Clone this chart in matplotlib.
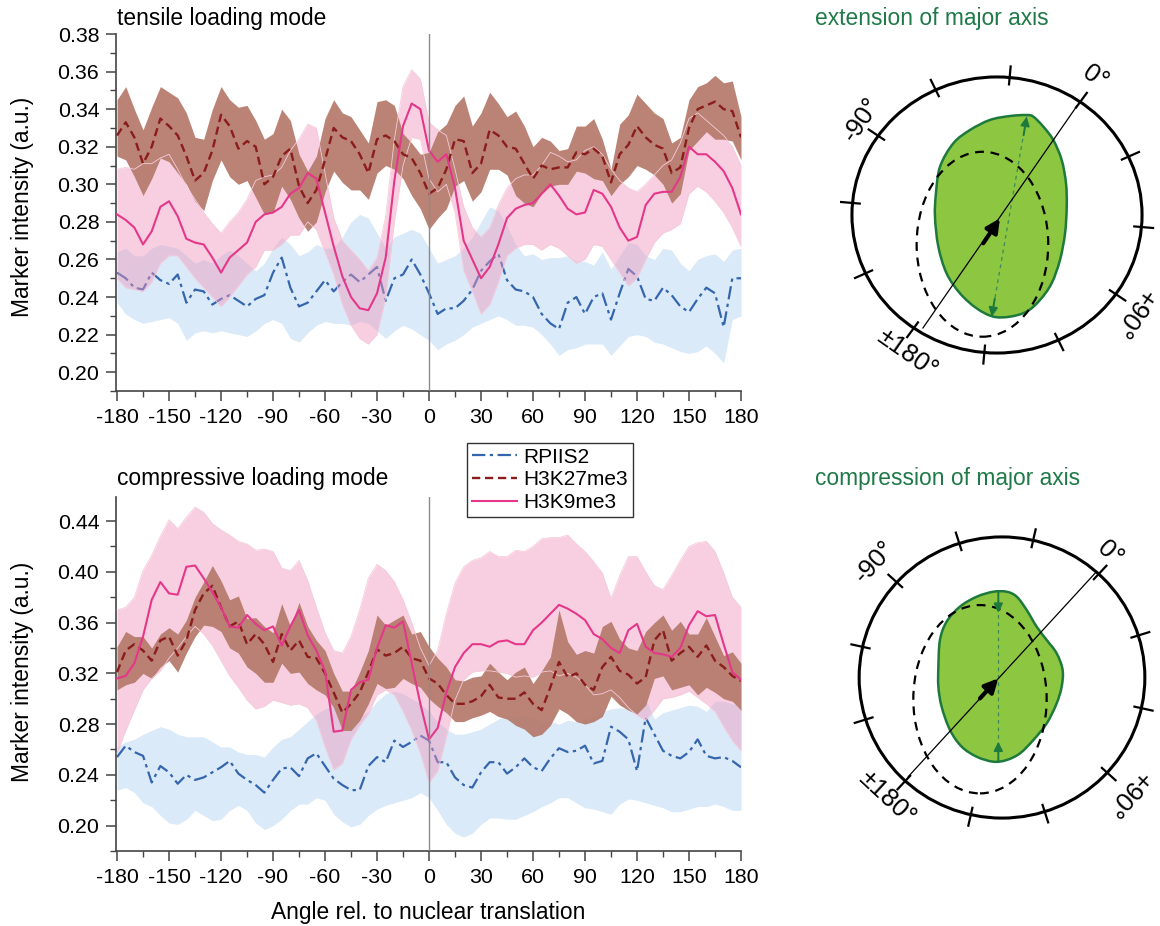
import numpy as np
import matplotlib
matplotlib.use("Agg")
import matplotlib.pyplot as plt
from matplotlib.path import Path
from matplotlib.patches import PathPatch, Ellipse
from matplotlib.ticker import MultipleLocator, FormatStrFormatter

plt.rcParams['font.family'] = ['Liberation Sans', 'DejaVu Sans']
plt.rcParams['axes.unicode_minus'] = False

# ---- data (angle grid, 5 degree steps) ----
angle = np.arange(-180, 181, 5)

# tensile loading mode
t_rp = [0.253, 0.250, 0.245, 0.244, 0.253, 0.249, 0.247, 0.252, 0.237, 0.244, 0.243, 0.236, 0.239, 0.241, 0.238, 0.235, 0.239, 0.241, 0.253, 0.261, 0.245, 0.235, 0.237, 0.243, 0.249,
        0.243, 0.248, 0.252, 0.248, 0.252, 0.256, 0.238, 0.250, 0.252, 0.260, 0.252, 0.242, 0.231, 0.234, 0.234, 0.238, 0.244, 0.254, 0.259, 0.263, 0.249, 0.244, 0.243, 0.240,
        0.231, 0.226, 0.223, 0.237, 0.240, 0.231, 0.240, 0.242, 0.228, 0.242, 0.255, 0.251, 0.239, 0.238, 0.245, 0.241, 0.235, 0.232, 0.239, 0.245, 0.242, 0.224, 0.250, 0.250]
t_rp_hi = [0.264, 0.266, 0.262, 0.262, 0.266, 0.268, 0.267, 0.266, 0.262, 0.258, 0.260, 0.258, 0.262, 0.265, 0.262, 0.258, 0.254, 0.258, 0.266, 0.272, 0.268, 0.262, 0.264, 0.268, 0.266,
           0.266, 0.272, 0.280, 0.284, 0.282, 0.274, 0.266, 0.272, 0.274, 0.276, 0.274, 0.266, 0.258, 0.260, 0.262, 0.266, 0.272, 0.280, 0.288, 0.286, 0.278, 0.268, 0.262, 0.263,
           0.260, 0.261, 0.261, 0.262, 0.259, 0.259, 0.257, 0.264, 0.255, 0.262, 0.269, 0.268, 0.262, 0.260, 0.266, 0.265, 0.258, 0.254, 0.260, 0.262, 0.263, 0.259, 0.265, 0.266]
t_rp_lo = [0.237, 0.231, 0.228, 0.226, 0.227, 0.228, 0.229, 0.226, 0.217, 0.221, 0.222, 0.221, 0.222, 0.221, 0.220, 0.219, 0.222, 0.226, 0.228, 0.226, 0.218, 0.216, 0.221, 0.225, 0.227,
           0.226, 0.226, 0.225, 0.227, 0.226, 0.222, 0.218, 0.222, 0.225, 0.223, 0.220, 0.217, 0.212, 0.215, 0.217, 0.220, 0.224, 0.226, 0.228, 0.230, 0.228, 0.225, 0.225, 0.224,
           0.220, 0.215, 0.209, 0.212, 0.213, 0.215, 0.215, 0.215, 0.209, 0.214, 0.219, 0.220, 0.219, 0.216, 0.215, 0.213, 0.211, 0.210, 0.211, 0.214, 0.210, 0.205, 0.228, 0.230]

t_k27 = [0.326, 0.333, 0.325, 0.311, 0.320, 0.335, 0.331, 0.326, 0.315, 0.302, 0.306, 0.318, 0.337, 0.331, 0.319, 0.323, 0.320, 0.300, 0.304, 0.315, 0.319, 0.299, 0.290, 0.297, 0.313,
         0.330, 0.325, 0.323, 0.316, 0.306, 0.324, 0.326, 0.323, 0.316, 0.314, 0.306, 0.295, 0.298, 0.308, 0.324, 0.323, 0.306, 0.311, 0.329, 0.326, 0.320, 0.319, 0.311, 0.303,
         0.310, 0.308, 0.309, 0.309, 0.317, 0.316, 0.319, 0.315, 0.301, 0.316, 0.321, 0.331, 0.325, 0.321, 0.319, 0.306, 0.309, 0.330, 0.340, 0.342, 0.344, 0.340, 0.339, 0.325]
t_k27_hi = [0.345, 0.352, 0.340, 0.329, 0.341, 0.352, 0.349, 0.346, 0.338, 0.325, 0.324, 0.340, 0.352, 0.345, 0.341, 0.342, 0.334, 0.324, 0.327, 0.340, 0.334, 0.316, 0.307, 0.315, 0.335,
            0.345, 0.338, 0.336, 0.329, 0.322, 0.344, 0.345, 0.342, 0.327, 0.322, 0.316, 0.317, 0.328, 0.332, 0.342, 0.347, 0.331, 0.338, 0.349, 0.343, 0.336, 0.339, 0.331, 0.320,
            0.325, 0.323, 0.318, 0.319, 0.331, 0.331, 0.335, 0.324, 0.308, 0.332, 0.337, 0.348, 0.343, 0.338, 0.335, 0.322, 0.325, 0.345, 0.352, 0.354, 0.358, 0.354, 0.355, 0.336]
t_k27_lo = [0.315, 0.313, 0.304, 0.294, 0.303, 0.314, 0.312, 0.306, 0.300, 0.291, 0.286, 0.302, 0.313, 0.304, 0.300, 0.302, 0.293, 0.284, 0.285, 0.299, 0.292, 0.282, 0.275, 0.280, 0.296,
            0.307, 0.301, 0.297, 0.297, 0.292, 0.306, 0.310, 0.308, 0.303, 0.294, 0.287, 0.276, 0.282, 0.287, 0.299, 0.302, 0.291, 0.296, 0.308, 0.308, 0.305, 0.294, 0.290, 0.288,
            0.295, 0.299, 0.300, 0.300, 0.307, 0.306, 0.303, 0.302, 0.294, 0.300, 0.304, 0.310, 0.308, 0.305, 0.300, 0.290, 0.295, 0.318, 0.323, 0.328, 0.324, 0.324, 0.323, 0.313]

t_k9 = [0.284, 0.281, 0.277, 0.268, 0.275, 0.288, 0.291, 0.283, 0.271, 0.269, 0.268, 0.261, 0.253, 0.261, 0.265, 0.269, 0.280, 0.284, 0.285, 0.288, 0.295, 0.298, 0.306, 0.303, 0.285,
        0.267, 0.251, 0.240, 0.234, 0.233, 0.242, 0.261, 0.302, 0.331, 0.343, 0.340, 0.318, 0.312, 0.316, 0.298, 0.270, 0.260, 0.250, 0.256, 0.268, 0.282, 0.287, 0.289, 0.290,
        0.295, 0.300, 0.294, 0.287, 0.284, 0.285, 0.297, 0.295, 0.288, 0.277, 0.270, 0.272, 0.289, 0.295, 0.296, 0.296, 0.304, 0.320, 0.316, 0.316, 0.312, 0.307, 0.298, 0.284]
t_k9_hi = [0.308, 0.309, 0.308, 0.311, 0.311, 0.314, 0.316, 0.308, 0.299, 0.292, 0.285, 0.279, 0.274, 0.280, 0.285, 0.292, 0.302, 0.304, 0.305, 0.309, 0.318, 0.324, 0.332, 0.330, 0.306,
           0.282, 0.270, 0.265, 0.260, 0.254, 0.261, 0.283, 0.324, 0.352, 0.361, 0.356, 0.333, 0.329, 0.326, 0.308, 0.288, 0.277, 0.272, 0.277, 0.289, 0.298, 0.303, 0.305, 0.305,
           0.310, 0.317, 0.315, 0.312, 0.313, 0.318, 0.320, 0.316, 0.308, 0.302, 0.298, 0.296, 0.300, 0.305, 0.310, 0.313, 0.322, 0.335, 0.338, 0.334, 0.330, 0.326, 0.320, 0.310]
t_k9_lo = [0.250, 0.245, 0.244, 0.243, 0.248, 0.258, 0.262, 0.262, 0.256, 0.250, 0.245, 0.240, 0.235, 0.240, 0.246, 0.252, 0.256, 0.265, 0.265, 0.268, 0.273, 0.273, 0.280, 0.276, 0.264,
           0.252, 0.236, 0.225, 0.218, 0.215, 0.220, 0.240, 0.280, 0.310, 0.325, 0.324, 0.303, 0.296, 0.300, 0.285, 0.254, 0.243, 0.231, 0.236, 0.248, 0.262, 0.266, 0.268, 0.268,
           0.265, 0.268, 0.266, 0.262, 0.258, 0.260, 0.268, 0.267, 0.260, 0.253, 0.246, 0.250, 0.260, 0.269, 0.274, 0.276, 0.279, 0.295, 0.299, 0.296, 0.291, 0.285, 0.277, 0.267]

# compressive loading mode
c_rp = [0.254, 0.263, 0.258, 0.255, 0.234, 0.247, 0.242, 0.233, 0.240, 0.236, 0.238, 0.242, 0.246, 0.251, 0.241, 0.236, 0.232, 0.226, 0.236, 0.245, 0.246, 0.239, 0.253, 0.257, 0.247,
        0.237, 0.232, 0.228, 0.228, 0.247, 0.254, 0.250, 0.267, 0.262, 0.266, 0.271, 0.267, 0.250, 0.250, 0.238, 0.232, 0.230, 0.242, 0.250, 0.250, 0.241, 0.246, 0.253, 0.246,
        0.243, 0.253, 0.261, 0.258, 0.259, 0.263, 0.249, 0.251, 0.278, 0.274, 0.268, 0.243, 0.285, 0.272, 0.259, 0.255, 0.253, 0.258, 0.268, 0.255, 0.253, 0.254, 0.251, 0.246]
c_rp_hi = [0.262, 0.266, 0.268, 0.272, 0.275, 0.278, 0.276, 0.272, 0.270, 0.270, 0.270, 0.266, 0.262, 0.262, 0.258, 0.256, 0.256, 0.254, 0.262, 0.268, 0.270, 0.276, 0.282, 0.288, 0.292,
           0.294, 0.290, 0.284, 0.285, 0.290, 0.298, 0.304, 0.306, 0.304, 0.300, 0.296, 0.290, 0.282, 0.276, 0.272, 0.272, 0.274, 0.276, 0.280, 0.284, 0.286, 0.286, 0.287, 0.286,
           0.282, 0.282, 0.280, 0.283, 0.282, 0.284, 0.286, 0.290, 0.292, 0.293, 0.292, 0.294, 0.300, 0.284, 0.289, 0.291, 0.293, 0.295, 0.294, 0.290, 0.298, 0.298, 0.296, 0.294]
c_rp_lo = [0.228, 0.230, 0.226, 0.218, 0.215, 0.208, 0.202, 0.201, 0.205, 0.212, 0.208, 0.204, 0.205, 0.212, 0.216, 0.212, 0.202, 0.197, 0.200, 0.205, 0.212, 0.217, 0.217, 0.222, 0.220,
           0.209, 0.203, 0.199, 0.201, 0.208, 0.213, 0.216, 0.218, 0.220, 0.222, 0.226, 0.222, 0.212, 0.201, 0.194, 0.191, 0.194, 0.201, 0.206, 0.206, 0.205, 0.205, 0.208, 0.211,
           0.215, 0.218, 0.222, 0.222, 0.218, 0.214, 0.213, 0.211, 0.209, 0.217, 0.221, 0.220, 0.218, 0.216, 0.214, 0.211, 0.211, 0.213, 0.215, 0.215, 0.217, 0.215, 0.212, 0.212]

c_k27 = [0.321, 0.338, 0.343, 0.338, 0.330, 0.346, 0.349, 0.334, 0.346, 0.370, 0.383, 0.389, 0.372, 0.357, 0.361, 0.343, 0.351, 0.343, 0.329, 0.351, 0.338, 0.346, 0.333, 0.332, 0.320,
         0.305, 0.289, 0.296, 0.305, 0.321, 0.339, 0.334, 0.336, 0.341, 0.332, 0.330, 0.316, 0.312, 0.303, 0.296, 0.296, 0.298, 0.302, 0.311, 0.301, 0.300, 0.300, 0.305, 0.296,
         0.291, 0.309, 0.329, 0.317, 0.320, 0.311, 0.307, 0.325, 0.333, 0.322, 0.319, 0.312, 0.317, 0.346, 0.354, 0.330, 0.336, 0.341, 0.333, 0.342, 0.330, 0.325, 0.318, 0.314]
c_k27_hi = [0.341, 0.353, 0.349, 0.349, 0.340, 0.351, 0.356, 0.351, 0.362, 0.380, 0.392, 0.405, 0.393, 0.378, 0.381, 0.363, 0.364, 0.357, 0.352, 0.375, 0.357, 0.376, 0.357, 0.346, 0.338,
            0.320, 0.306, 0.306, 0.321, 0.338, 0.366, 0.358, 0.362, 0.366, 0.351, 0.353, 0.341, 0.332, 0.325, 0.315, 0.314, 0.317, 0.318, 0.328, 0.321, 0.315, 0.321, 0.325, 0.312,
            0.322, 0.333, 0.370, 0.345, 0.335, 0.338, 0.336, 0.357, 0.361, 0.347, 0.340, 0.338, 0.353, 0.360, 0.366, 0.354, 0.361, 0.351, 0.351, 0.364, 0.349, 0.334, 0.337, 0.328]
c_k27_lo = [0.307, 0.311, 0.313, 0.320, 0.316, 0.325, 0.330, 0.321, 0.336, 0.349, 0.358, 0.357, 0.353, 0.340, 0.336, 0.325, 0.320, 0.313, 0.313, 0.328, 0.320, 0.321, 0.312, 0.307, 0.303,
            0.293, 0.275, 0.275, 0.283, 0.296, 0.312, 0.308, 0.309, 0.316, 0.312, 0.309, 0.300, 0.294, 0.289, 0.282, 0.282, 0.285, 0.287, 0.290, 0.286, 0.284, 0.279, 0.276, 0.270,
            0.272, 0.279, 0.292, 0.288, 0.282, 0.280, 0.282, 0.286, 0.302, 0.295, 0.291, 0.288, 0.295, 0.316, 0.318, 0.307, 0.309, 0.311, 0.303, 0.309, 0.305, 0.300, 0.298, 0.291]

c_k9 = [0.316, 0.318, 0.328, 0.349, 0.378, 0.392, 0.383, 0.382, 0.404, 0.405, 0.395, 0.384, 0.372, 0.357, 0.356, 0.366, 0.359, 0.354, 0.357, 0.342, 0.357, 0.370, 0.350, 0.338, 0.322,
        0.274, 0.275, 0.307, 0.313, 0.315, 0.340, 0.358, 0.356, 0.361, 0.328, 0.296, 0.268, 0.277, 0.305, 0.325, 0.336, 0.343, 0.343, 0.341, 0.345, 0.346, 0.343, 0.343, 0.354,
        0.360, 0.367, 0.374, 0.371, 0.367, 0.362, 0.351, 0.347, 0.340, 0.336, 0.354, 0.359, 0.341, 0.336, 0.335, 0.333, 0.340, 0.358, 0.369, 0.365, 0.366, 0.343, 0.321, 0.315]
c_k9_hi = [0.370, 0.372, 0.380, 0.401, 0.413, 0.428, 0.441, 0.434, 0.443, 0.451, 0.447, 0.438, 0.433, 0.429, 0.424, 0.422, 0.417, 0.418, 0.416, 0.403, 0.401, 0.409, 0.393, 0.372, 0.352,
           0.338, 0.336, 0.349, 0.370, 0.395, 0.406, 0.401, 0.392, 0.378, 0.360, 0.340, 0.326, 0.338, 0.367, 0.391, 0.404, 0.409, 0.411, 0.416, 0.412, 0.412, 0.417, 0.416, 0.420,
           0.426, 0.427, 0.427, 0.429, 0.422, 0.416, 0.408, 0.399, 0.379, 0.397, 0.412, 0.412, 0.400, 0.389, 0.386, 0.397, 0.409, 0.420, 0.423, 0.424, 0.416, 0.399, 0.380, 0.372]
c_k9_lo = [0.257, 0.275, 0.291, 0.307, 0.316, 0.322, 0.332, 0.340, 0.349, 0.357, 0.351, 0.342, 0.330, 0.318, 0.309, 0.299, 0.292, 0.294, 0.299, 0.297, 0.295, 0.296, 0.293, 0.283, 0.262,
           0.244, 0.249, 0.268, 0.279, 0.288, 0.303, 0.307, 0.303, 0.290, 0.275, 0.257, 0.234, 0.243, 0.270, 0.299, 0.315, 0.321, 0.322, 0.322, 0.321, 0.320, 0.317, 0.318, 0.317,
           0.321, 0.322, 0.318, 0.320, 0.317, 0.311, 0.303, 0.304, 0.307, 0.301, 0.293, 0.287, 0.283, 0.291, 0.300, 0.301, 0.303, 0.306, 0.301, 0.296, 0.290, 0.278, 0.267, 0.259]

series_names = ['RPIIS2', 'H3K27me3', 'H3K9me3']

# polar sketches: blob outline (units of the outer circle radius)
ext_blob = [(-0.407, 0.345), (-0.312, 0.512), (-0.193, 0.607), (-0.05, 0.679), (0.093, 0.707),
            (0.212, 0.714), (0.26, 0.702), (0.331, 0.631), (0.402, 0.536), (0.462, 0.393),
            (0.493, 0.226), (0.498, 0.06), (0.486, -0.131), (0.45, -0.321), (0.39, -0.488),
            (0.307, -0.607), (0.212, -0.69), (0.093, -0.726), (-0.026, -0.726), (-0.145, -0.667),
            (-0.264, -0.56), (-0.36, -0.417), (-0.419, -0.226), (-0.443, -0.012), (-0.436, 0.155)]
comp_blob = [(-0.448, 0.076), (-0.437, 0.264), (-0.39, 0.393), (-0.296, 0.499), (-0.178, 0.569),
             (-0.061, 0.604), (0.033, 0.604), (0.104, 0.569), (0.174, 0.475), (0.244, 0.358),
             (0.315, 0.264), (0.385, 0.17), (0.427, 0.053), (0.42, -0.065), (0.385, -0.182),
             (0.315, -0.323), (0.221, -0.44), (0.127, -0.534), (0.033, -0.581), (-0.061, -0.593),
             (-0.178, -0.558), (-0.284, -0.487), (-0.366, -0.37), (-0.425, -0.206), (-0.448, -0.065)]

# colours
c_blue, c_blue_fill = '#3566ad', '#96c3eb'
c_brown, c_brown_fill = '#8b1c1c', '#b57a6b'
c_pink, c_pink_fill = '#e5378a', '#f096be'
c_green, c_green_edge, c_green_txt = '#8dc641', '#1d7a3c', '#1f7a48'


def smooth_closed(pts):
    pts = np.asarray(pts, dtype=float)
    n = len(pts)
    verts = [pts[0]]
    codes = [Path.MOVETO]
    for i in range(n):
        p0, p1, p2, p3 = pts[i - 1], pts[i], pts[(i + 1) % n], pts[(i + 2) % n]
        verts += [p1 + (p2 - p0) / 6, p2 - (p3 - p1) / 6, p2]
        codes += [Path.CURVE4] * 3
    return Path(verts, codes)


def draw_panel(ax, rp, rp_hi, rp_lo, k27, k27_hi, k27_lo, k9, k9_hi, k9_lo):
    ax.fill_between(angle, rp_lo, rp_hi, color=c_blue_fill, alpha=0.35, lw=0, zorder=1)
    l1, = ax.plot(angle, rp, color=c_blue, lw=1.6, ls=(0, (6, 2, 1.5, 2)), zorder=2)
    ax.fill_between(angle, k9_lo, k9_hi, color=c_pink_fill, alpha=0.45, lw=0, zorder=3)
    ax.fill_between(angle, k27_lo, k27_hi, color=c_brown_fill, alpha=0.93, lw=0, zorder=4)
    ax.plot(angle, k9_hi, color='#f6cbdb', lw=0.6, zorder=4.5)
    ax.plot(angle, k9_lo, color='#f6cbdb', lw=0.6, zorder=4.5)
    l2, = ax.plot(angle, k27, color=c_brown, lw=1.7, ls=(0, (3.5, 2)), zorder=5)
    l3, = ax.plot(angle, k9, color=c_pink, lw=1.5, zorder=6)
    ax.axvline(0, color='#8c8c8c', lw=1.0, zorder=7)
    ax.set_xlim(-180.6, 180)
    ax.set_xticks(range(-180, 181, 30))
    ax.xaxis.set_minor_locator(MultipleLocator(15))
    ax.yaxis.set_major_formatter(FormatStrFormatter('%.2f'))
    for s in ['top', 'right']:
        ax.spines[s].set_visible(False)
    for s in ['left', 'bottom']:
        ax.spines[s].set_color('#444444')
        ax.spines[s].set_linewidth(1.2)
    ax.tick_params(which='major', length=7, width=1.1, color='#444444', labelsize=15.4, pad=5)
    ax.tick_params(which='minor', length=4, width=1.0, color='#444444')
    return [l1, l2, l3]


def draw_polar(ax, blob, ell_c, ell_w, ell_h, zero, rx, ry, line_ends, green_ends, arrows,
               blk_arrow, labels, xlim, ylim):
    ax.set_xlim(*xlim)
    ax.set_ylim(*ylim)
    ax.axis('off')
    ax.add_patch(PathPatch(smooth_closed(blob), fc=c_green, ec=c_green_edge, lw=1.8, zorder=2))
    ax.add_patch(Ellipse(ell_c, ell_w, ell_h, fill=False, ec='black', lw=1.6,
                         ls=(0, (4, 3)), zorder=3))
    (gx0, gy0), (gx1, gy1) = green_ends
    ax.plot([gx0, gx1], [gy0, gy1], color='#3a8a55', lw=0.9, ls=(0, (3, 3)), zorder=3)
    (bx0, by0), (bx1, by1) = line_ends
    ax.plot([bx0, bx1], [by0, by1], color='black', lw=0.9, zorder=4)
    ax.add_patch(Ellipse((0, 0), 2 * rx, 2 * ry, fill=False, ec='black', lw=2.2, zorder=5))
    for k in range(12):
        a = np.deg2rad(zero + 30 * k)
        ax.plot([0.95 * rx * np.cos(a), 1.08 * rx * np.cos(a)],
                [0.95 * ry * np.sin(a), 1.08 * ry * np.sin(a)], color='black', lw=1.6, zorder=5)
    for tail, tip in arrows:
        ax.annotate('', xy=tip, xytext=tail,
                    arrowprops=dict(arrowstyle='-|>', color=c_green_edge, lw=1.4,
                                    mutation_scale=13, shrinkA=0, shrinkB=0), zorder=6)
    ax.annotate('', xy=blk_arrow[1], xytext=blk_arrow[0],
                arrowprops=dict(arrowstyle='-|>', color='black', lw=3.0,
                                mutation_scale=20, shrinkA=0, shrinkB=0), zorder=6)
    for txt, (x, y), rot in labels:
        ax.text(x, y, txt, rotation=rot, ha='center', va='center', fontsize=18.5,
                rotation_mode='anchor')


fig = plt.figure(figsize=(11.6, 9.26), dpi=100)

ax1 = fig.add_axes([116 / 1160, 1 - 391 / 926, 625 / 1160, 357 / 926])
draw_panel(ax1, t_rp, t_rp_hi, t_rp_lo, t_k27, t_k27_hi, t_k27_lo, t_k9, t_k9_hi, t_k9_lo)
ax1.set_ylim(0.19, 0.38)
ax1.set_yticks(np.arange(0.20, 0.3801, 0.02))
ax1.yaxis.set_minor_locator(MultipleLocator(0.01))

ax2 = fig.add_axes([116 / 1160, 1 - 851 / 926, 625 / 1160, 354 / 926])
handles = draw_panel(ax2, c_rp, c_rp_hi, c_rp_lo, c_k27, c_k27_hi, c_k27_lo, c_k9, c_k9_hi, c_k9_lo)
ax2.set_ylim(0.18, 0.459)
ax2.set_yticks(np.arange(0.20, 0.4401, 0.04))
ax2.yaxis.set_minor_locator(MultipleLocator(0.02))

leg = fig.legend(handles, series_names, loc='upper left', bbox_to_anchor=(467 / 1160, 1 - 443 / 926),
                 frameon=True, fancybox=False, edgecolor='#333333', framealpha=1, fontsize=15,
                 handlelength=2.2, labelspacing=0.18, borderpad=0.22, handletextpad=0.3,
                 borderaxespad=0)
leg.get_frame().set_linewidth(1.0)

fig.text(117 / 1160, 1 - 18 / 926, 'tensile loading mode', ha='left', va='center', fontsize=16.4)
fig.text(117 / 1160, 1 - 478 / 926, 'compressive loading mode', ha='left', va='center', fontsize=16.4)
fig.text(23 / 1160, 1 - 207 / 926, 'Marker intensity (a.u.)', rotation=90, ha='center', va='center', fontsize=16.4)
fig.text(23 / 1160, 1 - 672 / 926, 'Marker intensity (a.u.)', rotation=90, ha='center', va='center', fontsize=16.4)
fig.text(428 / 1160, 1 - 913 / 926, 'Angle rel. to nuclear translation', ha='center', va='center', fontsize=16.4)
fig.text(815 / 1160, 1 - 18 / 926, 'extension of major axis', ha='left', va='center', fontsize=16.4, color=c_green_txt)
fig.text(815 / 1160, 1 - 478 / 926, 'compression of major axis', ha='left', va='center', fontsize=16.4, color=c_green_txt)

# extension sketch
ax3 = fig.add_axes([840 / 1160, 1 - 380 / 926, 320 / 1160, 320 / 926])
top_end, bot_end = (0.212, 0.702), (-0.038, -0.726)
draw_polar(ax3, ext_blob, (-0.104, -0.209), 0.94, 1.321, 55, 1.036, 0.986,
           [(-0.529, -0.807), (0.571, 0.779)], [top_end, bot_end],
           [((0.19, 0.57), top_end), ((-0.016, -0.598), bot_end)],
           [(-0.098, -0.202), (0.021, -0.024)],
           [('0°', (0.70, 0.98), -35), ('-90°', (-0.967, 0.679), 55),
            ('+90°', (0.974, -0.702), -125), ('±180°', (-0.645, -0.99), -35)],
           (-1.1214, 1.1643), (-1.1786, 1.1071))

# compression sketch
ax4 = fig.add_axes([840 / 1160, 1 - 840 / 926, 320 / 1160, 320 / 926])
draw_polar(ax4, comp_blob, (-0.155, -0.153), 0.939, 1.326, 47.4, 1.006, 0.99,
           [(-0.66, -0.698), (0.655, 0.734)], [(-0.026, 0.604), (-0.026, -0.593)],
           [((-0.026, 0.604), (-0.026, 0.456)), ((-0.026, -0.593), (-0.026, -0.452))],
           [(-0.155, -0.147), (-0.026, -0.006)],
           [('0°', (0.76, 0.875), -43), ('-90°', (-0.894, 0.815), 47),
            ('+90°', (0.878, -0.816), -133), ('±180°', (-0.812, -0.851), -43)],
           (-1.1408, 1.1127), (-1.1444, 1.1092))

fig.savefig('out.png', dpi=100)
